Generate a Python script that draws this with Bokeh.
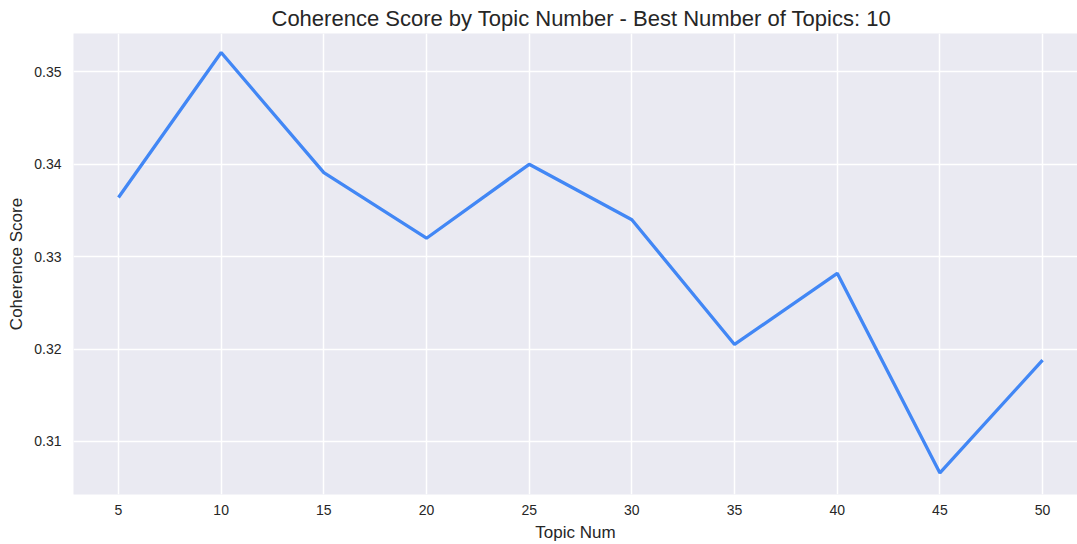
from bokeh.plotting import figure
from bokeh.models import Range1d, FixedTicker
from bokeh.embed import file_html
from bokeh.resources import INLINE

topic_nums = [5, 10, 15, 20, 25, 30, 35, 40, 45, 50]
coherence = [0.3364, 0.3521, 0.3391, 0.3320, 0.3400, 0.3340, 0.3205, 0.3282, 0.3066, 0.3188]
x_ticks = [5, 10, 15, 20, 25, 30, 35, 40, 45, 50]
y_ticks = [0.31, 0.32, 0.33, 0.34, 0.35]

FONT = "Liberation Sans"
TXT = "#262626"

p = figure(frame_width=1004, frame_height=461, output_backend="svg", toolbar_location=None,
           x_range=Range1d(2.81, 51.70), y_range=Range1d(0.30426, 0.35416),
           title="Coherence Score by Topic Number - Best Number of Topics: 10",
           x_axis_label="Topic Num", y_axis_label="Coherence Score",
           min_border_left=0, min_border_right=0, min_border_top=0, min_border_bottom=0)
p.margin = (0, 0, 0, 4)

p.background_fill_color = "#EAEAF2"
p.border_fill_color = "white"
p.outline_line_color = None

p.title.align = "left"
p.title.text_font = FONT
p.title.text_font_size = "22px"
p.title.text_font_style = "normal"
p.title.text_color = TXT
p.title.standoff = 6
p.title.offset = 198

p.line(topic_nums, coherence, line_color="#4287f5", line_width=3.3)

for ax in (p.xaxis[0], p.yaxis[0]):
    ax.axis_line_color = None
    ax.major_tick_line_color = None
    ax.minor_tick_line_color = None
    ax.major_tick_out = 0
    ax.major_tick_in = 0
    ax.major_label_text_font = FONT
    ax.major_label_text_font_size = "14px"
    ax.major_label_text_color = TXT
    ax.axis_label_text_font = FONT
    ax.axis_label_text_font_size = "17px"
    ax.axis_label_text_font_style = "normal"
    ax.axis_label_text_color = TXT

p.xaxis.ticker = FixedTicker(ticks=x_ticks)
p.yaxis.ticker = FixedTicker(ticks=y_ticks)
p.xaxis.major_label_standoff = 10
p.yaxis.major_label_standoff = 12
p.xaxis.axis_label_standoff = 5
p.yaxis.axis_label_standoff = 5

p.xgrid.grid_line_color = "white"
p.ygrid.grid_line_color = "white"
p.xgrid.grid_line_width = 1.5
p.ygrid.grid_line_width = 1.5

open("out.html", "w").write(file_html(p, INLINE))
